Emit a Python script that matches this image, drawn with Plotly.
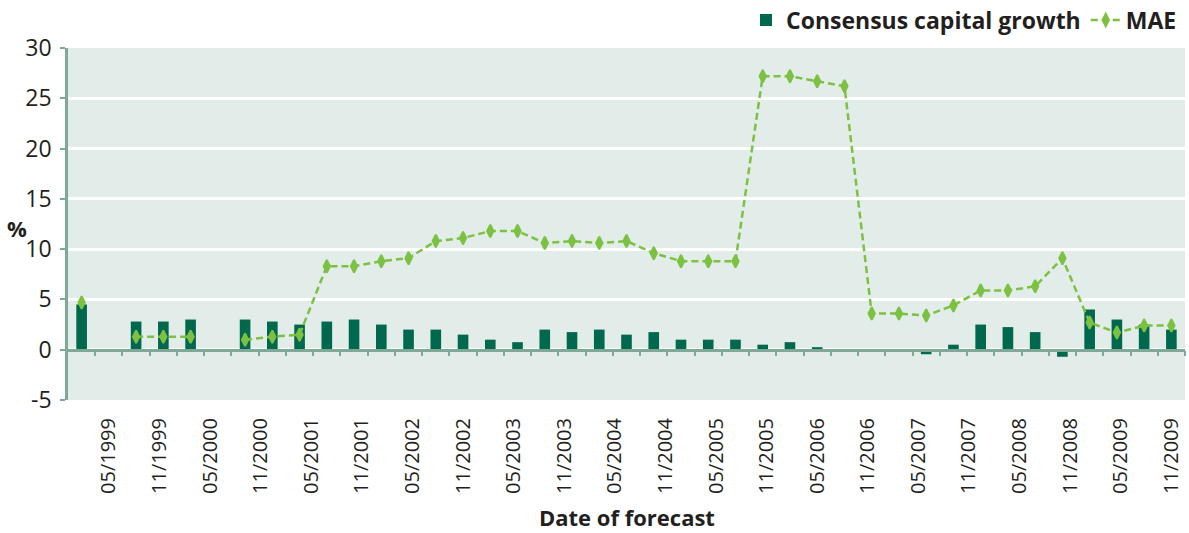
import plotly.graph_objects as go

# ---- data ----
growth = [4.5, None, 2.8, 2.8, 3.0, None, 3.0, 2.8, 2.5, 2.8, 3.0, 2.5, 2.0, 2.0, 1.5,
          1.0, 0.75, 2.0, 1.75, 2.0, 1.5, 1.75, 1.0, 1.0, 1.0, 0.5, 0.75, 0.25, -0.1,
          -0.1, -0.1, -0.45, 0.5, 2.5, 2.25, 1.75, -0.7, 4.0, 3.0, 2.5, 2.0]
mae = [4.7, None, 1.3, 1.3, 1.3, None, 1.0, 1.3, 1.5, 8.3, 8.3, 8.8, 9.1, 10.8, 11.1,
       11.8, 11.8, 10.6, 10.8, 10.6, 10.8, 9.6, 8.8, 8.8, 8.8, 27.2, 27.2, 26.7, 26.2,
       3.6, 3.6, 3.4, 4.4, 5.9, 5.9, 6.3, 9.1, 2.7, 1.7, 2.4, 2.4]
tick_labels = ["05/1999", "11/1999", "05/2000", "11/2000", "05/2001", "11/2001",
               "05/2002", "11/2002", "05/2003", "11/2003", "05/2004", "11/2004",
               "05/2005", "11/2005", "05/2006", "11/2006", "05/2007", "11/2007",
               "05/2008", "11/2008", "05/2009", "11/2009"]
y_ticks = [-5, 0, 5, 10, 15, 20, 25, 30]
y_tick_text = ["-5", "0", "5", "10", "15", "20", "25", "30"]

n = len(growth)
cats = list(range(n))

# label positions: first label sits on forecast 1, last on forecast n-1, linear in time
def months(lbl):
    m, y = lbl.split("/")
    return int(y) * 12 + int(m)
m0 = months(tick_labels[0]); m1 = months(tick_labels[-1])
label_pos = [1 + (months(l) - m0) * (n - 2) / (m1 - m0) for l in tick_labels]

BAR = "#00684d"
LINE = "#7cc142"
AXIS = "#7fa897"
BG = "#e2ece8"
TXT = "#231f20"
FONT = "Open Sans"

fig = go.Figure()
fig.add_trace(go.Bar(x=cats, y=growth, name="Consensus capital growth",
                     marker=dict(color=BAR, line=dict(width=0)),
                     xaxis="x", yaxis="y"))
fig.add_trace(go.Scatter(x=cats, y=mae, name="MAE", mode="lines+markers",
                         line=dict(color=LINE, width=2.5, dash="7px,4px"),
                         marker=dict(symbol="diamond-tall", size=9, color=LINE,
                                     line=dict(color=LINE, width=2)),
                         connectgaps=False, xaxis="x2", yaxis="y"))

fig.update_layout(
    width=1189, height=533,
    margin=dict(l=68, r=4, t=48, b=133, autoexpand=False),
    paper_bgcolor="white", plot_bgcolor=BG,
    bargap=0.61,
    font=dict(family=FONT, color=TXT, size=20),
    showlegend=True,
    legend=dict(orientation="h", x=(1189 - 7) / 1189, xanchor="right", xref="container",
                y=1 - 20 / 533, yanchor="middle", yref="container",
                font=dict(family=FONT, size=23, weight="bold", color=TXT),
                itemwidth=30, bgcolor="rgba(0,0,0,0)", traceorder="normal"),
    xaxis=dict(range=[-0.5, n - 0.5], tickmode="array", tickvals=label_pos,
               ticktext=tick_labels, tickangle=-90, ticks="", showline=False,
               showgrid=False, zeroline=False, ticklabelstandoff=13,
               tickfont=dict(size=20, color=TXT, family=FONT)),
    xaxis2=dict(overlaying="x", matches="x", anchor="free", position=5 / 35,
                side="bottom", tickmode="array",
                tickvals=[i + 0.5 for i in range(n)], ticks="outside", ticklen=5,
                tickwidth=2, tickcolor=AXIS, showline=True, linecolor=AXIS,
                linewidth=2.5, showticklabels=False, showgrid=False, zeroline=False),
    yaxis=dict(range=[-5, 30], tickmode="array", tickvals=y_ticks, ticktext=y_tick_text,
               showgrid=True, gridcolor="white",
               gridwidth=2.5, zeroline=False, showline=True, linecolor=AXIS,
               linewidth=2.5, ticks="outside", ticklen=5, tickwidth=2, tickcolor=AXIS,
               ticklabelstandoff=4, tickfont=dict(size=23, color=TXT, family=FONT)),
    annotations=[
        dict(text="%", xref="paper", yref="paper", x=(17 - 68) / 1117, y=(400 - 228) / 352,
             showarrow=False, xanchor="center", yanchor="middle",
             font=dict(family=FONT, size=22, weight="bold", color=TXT)),
        dict(text="Date of forecast", xref="paper", yref="paper", x=0.5,
             y=(400 - 517) / 352, showarrow=False, xanchor="center", yanchor="middle",
             font=dict(family=FONT, size=22, weight="bold", color=TXT)),
    ],
)

fig.write_html("out.html")
